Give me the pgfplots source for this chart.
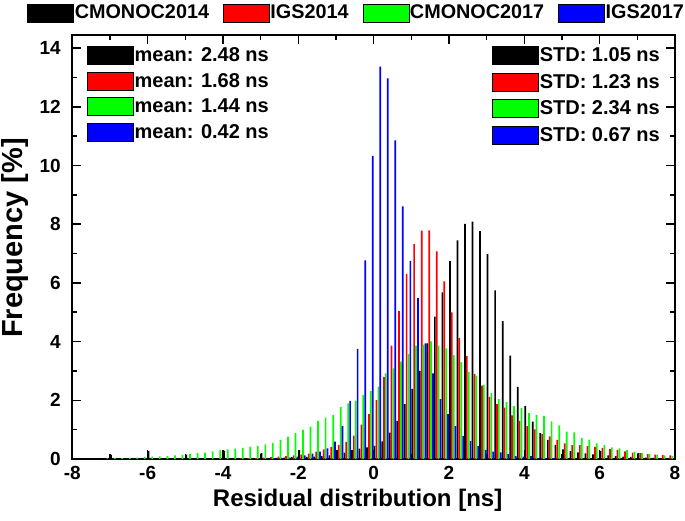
\documentclass[border=0pt]{standalone}
\usepackage{fontspec}
\setmainfont{Liberation Sans}
\usepackage{pgfplots}
\usepackage{pgfplotstable}
\pgfplotsset{compat=1.18}

\pgfplotstableread{
x y
-7.0 0.14
-6.0 0.28
-5.0 0.15
-4.0 0.28
-3.4 0.02
-3.2 0.03
-3.0 0.20
-2.8 0.03
-2.6 0.04
-2.4 0.05
-2.2 0.06
-2.0 0.30
-1.8 0.07
-1.6 0.08
-1.4 0.10
-1.2 0.12
-1.0 0.30
-0.8 0.22
-0.6 0.30
-0.4 0.35
-0.2 0.40
0.0 0.45
0.2 0.60
0.4 0.90
0.6 1.30
0.8 1.87
1.0 2.39
1.2 3.00
1.4 3.94
1.6 4.85
1.8 5.68
2.0 6.74
2.2 7.45
2.4 8.01
2.6 8.09
2.8 7.77
3.0 6.98
3.2 5.75
3.4 4.70
3.6 3.52
3.8 2.46
4.0 1.81
4.2 1.27
4.4 0.88
4.6 0.65
4.8 0.48
5.0 0.33
5.2 0.27
5.4 0.23
5.6 0.19
5.8 0.16
6.0 0.28
6.2 0.12
6.4 0.10
6.6 0.08
6.8 0.07
7.0 0.20
7.2 0.05
7.4 0.04
7.6 0.03
7.8 0.03
}\blackdata

\pgfplotstableread{
x y
-3.6 0.02
-3.4 0.03
-3.2 0.04
-3.0 0.05
-2.8 0.06
-2.6 0.08
-2.4 0.10
-2.2 0.12
-2.0 0.15
-1.8 0.18
-1.6 0.25
-1.4 0.33
-1.2 0.41
-1.0 0.48
-0.8 0.58
-0.6 0.80
-0.4 1.17
-0.2 1.53
0.0 2.01
0.2 2.80
0.4 3.86
0.6 5.04
0.8 6.31
1.0 7.33
1.2 7.78
1.4 7.79
1.6 7.08
1.8 6.05
2.0 5.00
2.2 4.12
2.4 3.51
2.6 2.90
2.8 2.50
3.0 2.12
3.2 1.87
3.4 1.75
3.6 1.49
3.8 1.30
4.0 1.12
4.2 1.01
4.4 0.85
4.6 0.77
4.8 0.65
5.0 0.53
5.2 0.47
5.4 0.47
5.6 0.44
5.8 0.41
6.0 0.38
6.2 0.34
6.4 0.30
6.6 0.26
6.8 0.22
7.0 0.20
7.2 0.17
7.4 0.15
7.6 0.13
7.8 0.12
}\reddata

\pgfplotstableread{
x y
-7.2 0.02
-7.0 0.03
-6.8 0.03
-6.6 0.04
-6.4 0.05
-6.2 0.06
-6.0 0.08
-5.8 0.09
-5.6 0.10
-5.4 0.12
-5.2 0.14
-5.0 0.17
-4.8 0.20
-4.6 0.22
-4.4 0.26
-4.2 0.30
-4.0 0.33
-3.8 0.35
-3.6 0.38
-3.4 0.42
-3.2 0.45
-3.0 0.50
-2.8 0.55
-2.6 0.65
-2.4 0.76
-2.2 0.88
-2.0 0.99
-1.8 1.10
-1.6 1.30
-1.4 1.41
-1.2 1.50
-1.0 1.78
-0.8 1.90
-0.6 1.99
-0.4 2.18
-0.2 2.31
0.0 2.47
0.2 2.92
0.4 3.09
0.6 3.32
0.8 3.58
1.0 3.86
1.2 3.90
1.4 4.01
1.6 3.86
1.8 3.77
2.0 3.54
2.2 3.30
2.4 2.97
2.6 2.84
2.8 2.53
3.0 2.25
3.2 2.04
3.4 1.94
3.6 1.80
3.8 1.73
4.0 1.56
4.2 1.50
4.4 1.47
4.6 1.28
4.8 1.15
5.0 0.93
5.2 0.91
5.4 0.72
5.6 0.66
5.8 0.53
6.0 0.48
6.2 0.40
6.4 0.36
6.6 0.30
6.8 0.25
7.0 0.20
7.2 0.17
7.4 0.15
7.6 0.12
7.8 0.10
}\greendata

\pgfplotstableread{
x y
-3.0 0.02
-2.8 0.03
-2.6 0.04
-2.4 0.05
-2.2 0.08
-2.0 0.12
-1.8 0.18
-1.6 0.25
-1.4 0.36
-1.2 0.59
-1.0 1.12
-0.8 1.98
-0.6 3.75
-0.4 6.77
-0.2 10.33
0.0 13.37
0.2 12.97
0.4 10.86
0.6 8.61
0.8 6.75
1.0 5.48
1.2 3.94
1.4 2.92
1.6 2.04
1.8 1.53
2.0 1.12
2.2 0.79
2.4 0.61
2.6 0.44
2.8 0.31
3.0 0.25
3.2 0.23
3.4 0.17
3.6 0.10
3.8 0.08
4.0 0.10
4.2 0.04
4.4 0.03
4.6 0.03
4.8 0.02
}\bluedata

\definecolor{cgreen}{RGB}{0,255,0}
\definecolor{cred}{RGB}{255,0,0}
\definecolor{cblue}{RGB}{0,0,255}

\pgfplotsset{
  base/.style={
    scale only axis, width=602.7pt, height=424pt,
    xmin=-8, xmax=8, ymin=0, ymax=14.45,
  },
  sqlegend/.style={
    legend image code/.code={\fill[##1] (0pt,-9pt) rectangle (46pt,9pt);},
    legend cell align=left,
    legend style={draw=none, fill=none, inner sep=0pt, outer sep=0pt,
      nodes={inner sep=0pt, outer sep=0pt},
      font=\fontsize{20}{22}\selectfont\bfseries,
      /tikz/every odd column/.append style={column sep=1pt}},
  },
}

\begin{document}
\begin{tikzpicture}
\begin{axis}[base,
  ybar, bar width=0.045, bar shift=0pt,
  sqlegend,
  xtick={-8,-6,...,8}, ytick={0,2,...,14},
  minor xtick={-7,-5,...,7}, minor ytick={1,3,...,13},
  tick align=inside, major tick length=9pt, minor tick length=5pt,
  every tick/.style={black, line width=1.6pt},
  axis line style={line width=2.2pt},
  /pgf/number format/assume math mode=true,
  tick label style={font=\fontsize{19}{20}\selectfont\bfseries},
  xticklabel style={yshift=-4pt},
  yticklabel style={xshift=-8pt},
  xlabel={Residual distribution [ns]}, ylabel={Frequency [\%]},
  every axis x label/.style={at={(axis description cs:0.5,0)}, anchor=center, yshift=-41pt, xshift=-16pt,
     font=\fontsize{24}{26}\selectfont\bfseries},
  every axis y label/.style={at={(axis description cs:0,0.5)}, anchor=center, xshift=-57.5pt, yshift=9pt, rotate=90,
     font=\fontsize{29}{31}\selectfont\bfseries},
  legend columns=4,
  legend style={at={(axis description cs:-0.0745,1.0743)}, anchor=north west,
    font=\fontsize{19.8}{22}\selectfont\bfseries,
    /tikz/every even column/.append style={column sep=14pt}},
]
\coordinate (SW) at (rel axis cs:0,0);
\addplot[fill=black, draw=none, forget plot] table[x expr=\thisrow{x}+0.025, y=y] {\blackdata};
\addplot[fill=cred, draw=none, forget plot] table[x expr=\thisrow{x}+0.075, y=y] {\reddata};
\addplot[fill=cgreen, draw=none, forget plot] table[x expr=\thisrow{x}+0.125, y=y] {\greendata};
\addplot[fill=cblue, draw=none, forget plot] table[x expr=\thisrow{x}+0.175, y=y] {\bluedata};
\addlegendimage{fill=black}
\addlegendimage{fill=cred}
\addlegendimage{fill=cgreen}
\addlegendimage{fill=cblue}
\legend{CMONOC2014, IGS2014, CMONOC2017, IGS2017}
\end{axis}

\begin{axis}[base, sqlegend, hide axis,
  legend style={at={(axis description cs:0.0249,0.9748)}, anchor=north west, row sep=7.5pt}]
\addlegendimage{fill=black}
\addlegendimage{fill=cred}
\addlegendimage{fill=cgreen}
\addlegendimage{fill=cblue}
\legend{mean: 2.48 ns, mean: 1.68 ns, mean: 1.44 ns, mean: 0.42 ns}
\end{axis}

\begin{axis}[base, sqlegend, hide axis,
  legend style={at={(axis description cs:0.697,0.974)}, anchor=north west, row sep=8.3pt}]
\addlegendimage{fill=black}
\addlegendimage{fill=cred}
\addlegendimage{fill=cgreen}
\addlegendimage{fill=cblue}
\legend{STD: 1.05 ns, STD: 1.23 ns, STD: 2.34 ns, STD: 0.67 ns}
\end{axis}

\pgfresetboundingbox
\path (SW) ++(-72.3pt,-61pt) rectangle ++(685pt,520pt);
\end{tikzpicture}
\end{document}
